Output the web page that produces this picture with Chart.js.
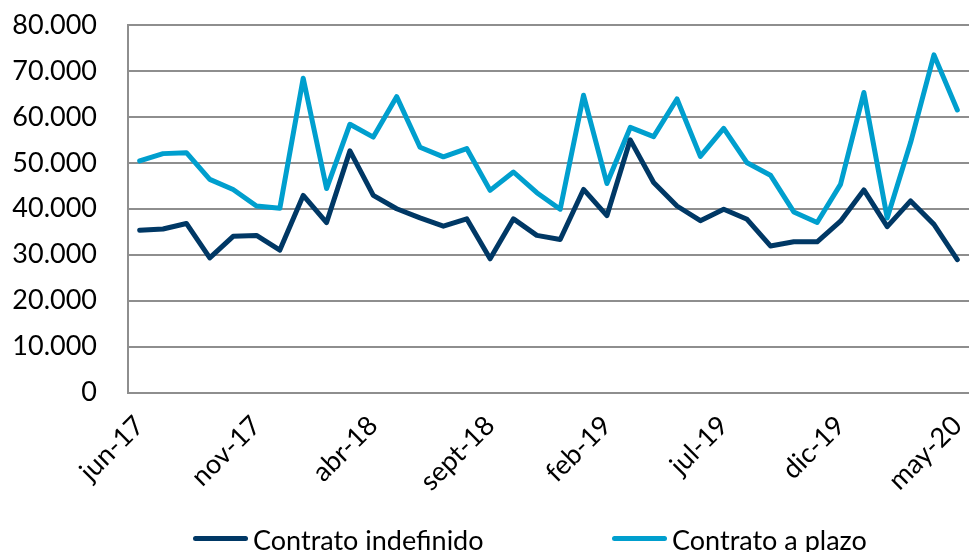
<!DOCTYPE html>
<html>
<head>
<meta charset="utf-8">
<script src="https://cdn.jsdelivr.net/npm/chart.js@4"></script>
<style>
  body { margin: 0; background: #fff; }
  #wrap { position: relative; width: 969px; height: 552px; }
  .legend-line { position: absolute; height: 5px; width: 55px; border-radius: 3px; }
  .legend-text { position: absolute; font-family: Lato, sans-serif; font-size: 27px; line-height: 27px; color: #000; white-space: nowrap; }
</style>
</head>
<body>
<div id="wrap">
  <canvas id="chart"></canvas>
  <div class="legend-line" style="left:193px; top:536px; background:#003865;"></div>
  <div class="legend-text" style="left:253px; top:526px;">Contrato indefinido</div>
  <div class="legend-line" style="left:612px; top:536px; background:#009fce;"></div>
  <div class="legend-text" style="left:672px; top:526px;">Contrato a plazo</div>
</div>
<script>
// months jun-17 .. may-20
const months = [
  'jun-17', 'jul-17', 'ago-17', 'sept-17', 'oct-17', 'nov-17', 'dic-17',
  'ene-18', 'feb-18', 'mar-18', 'abr-18', 'may-18', 'jun-18', 'jul-18', 'ago-18', 'sept-18', 'oct-18', 'nov-18', 'dic-18',
  'ene-19', 'feb-19', 'mar-19', 'abr-19', 'may-19', 'jun-19', 'jul-19', 'ago-19', 'sept-19', 'oct-19', 'nov-19', 'dic-19',
  'ene-20', 'feb-20', 'mar-20', 'abr-20', 'may-20'
];

const indefinido = [
  35300, 35600, 36800, 29300, 34000, 34200, 31000, 42900, 37000, 52600, 42900, 40000, 38000,
  36200, 37800, 29100, 37800, 34200, 33300, 44200, 38500, 55000, 45700, 40600, 37400,
  39900, 37700, 31900, 32800, 32800, 37300, 44100, 36100, 41700, 36600, 28900
];

const aPlazo = [
  50400, 52000, 52200, 46400, 44200, 40600, 40100, 68400, 44400, 58400, 55600, 64400, 53400,
  51300, 53100, 44000, 48000, 43500, 39900, 64700, 45500, 57700, 55700, 63900, 51400,
  57500, 50000, 47300, 39300, 37000, 45300, 65300, 38000, 54400, 73500, 61500
];

const yTicks = [0, 10000, 20000, 30000, 40000, 50000, 60000, 70000, 80000];

const gridGray = '#8e8e8e';
const font = { family: 'Lato, sans-serif', size: 27 };

function fmt(v) {
  return String(v).replace(/\B(?=(\d{3})+(?!\d))/g, '.');
}

document.addEventListener('DOMContentLoaded', function() {
  const ctx = document.getElementById('chart').getContext('2d');

  new Chart(ctx, {
    type: 'line',
    data: {
      labels: months,
      datasets: [
        {
          label: 'Contrato indefinido',
          data: indefinido,
          borderColor: '#003865',
          backgroundColor: '#003865',
          borderWidth: 5,
          pointRadius: 0,
          tension: 0,
          borderCapStyle: 'round',
          borderJoinStyle: 'round'
        },
        {
          label: 'Contrato a plazo',
          data: aPlazo,
          borderColor: '#009fce',
          backgroundColor: '#009fce',
          borderWidth: 5,
          pointRadius: 0,
          tension: 0,
          borderCapStyle: 'round',
          borderJoinStyle: 'round'
        }
      ]
    },
    options: {
      responsive: true,
      maintainAspectRatio: false,
      animation: false,
      devicePixelRatio: 1,
      layout: {
        padding: { top: 25, right: 0, bottom: 0, left: 0 }
      },
      scales: {
        x: {
          offset: true,
          grid: { display: false, drawTicks: false },
          border: { display: true, color: gridGray, width: 2 },
          ticks: {
            autoSkip: false,
            minRotation: 45,
            maxRotation: 45,
            padding: 17,
            color: '#000',
            font: font,
            callback: function(val, index) {
              return index % 5 === 0 ? this.getLabelForValue(val) : '';
            }
          },
          afterFit: function(scale) {
            scale.height = 159.5;
            scale.paddingLeft = 0;
            scale.paddingRight = 0;
          }
        },
        y: {
          min: 0,
          max: 80000,
          afterBuildTicks: function(scale) {
            scale.ticks = yTicks.map(v => ({ value: v }));
          },
          grid: { color: gridGray, lineWidth: 2, drawTicks: false },
          border: { display: true, color: gridGray, width: 2 },
          ticks: {
            padding: 31,
            color: '#000',
            font: font,
            callback: function(v) { return fmt(v); }
          },
          afterFit: function(scale) {
            scale.width = 128;
            scale.paddingTop = 0;
            scale.paddingBottom = 0;
          }
        }
      },
      plugins: {
        legend: { display: false },
        tooltip: { enabled: false }
      }
    }
  });
});
</script>
</body>
</html>
